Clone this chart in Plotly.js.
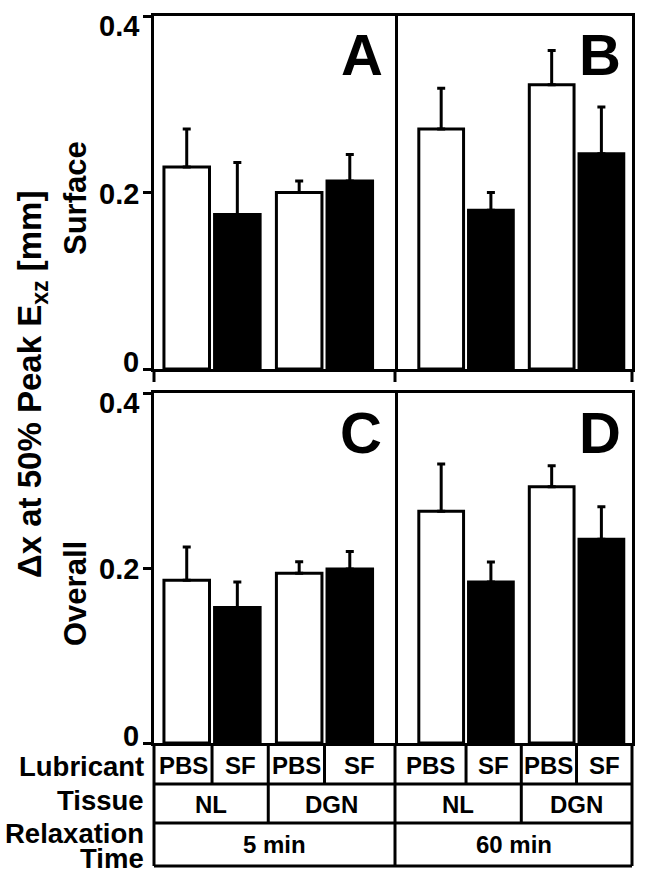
<!DOCTYPE html>
<html><head><meta charset="utf-8">
<script src="https://cdn.plot.ly/plotly-3.0.1.min.js"></script>
<style>html,body{margin:0;padding:0;background:#fff}#chart{width:645px;height:879px}</style>
</head><body><div id="chart"></div>
<script>
// ---------- data ----------
const tissues = ['NL', 'DGN'];
const lubricants = ['PBS', 'SF'];
const relaxTimes = ['5 min', '60 min'];
const regionLabels = ['Surface', 'Overall'];
const panelLetters = ['A', 'B', 'C', 'D'];
const yTickVals = [0, 0.2, 0.4];
const yTickText = ['0', '0.2', '0.4'];

// Surface (top row): values by tissue [NL, DGN]
const surface5minPBS = [0.229, 0.200];
const surface5minPBSErr = [0.043, 0.013];
const surface5minSF = [0.175, 0.213];
const surface5minSFErr = [0.059, 0.030];
const surface60minPBS = [0.272, 0.322];
const surface60minPBSErr = [0.046, 0.039];
const surface60minSF = [0.180, 0.244];
const surface60minSFErr = [0.020, 0.053];

// Overall (bottom row)
const overall5minPBS = [0.186, 0.194];
const overall5minPBSErr = [0.038, 0.013];
const overall5minSF = [0.155, 0.199];
const overall5minSFErr = [0.029, 0.020];
const overall60minPBS = [0.265, 0.293];
const overall60minPBSErr = [0.054, 0.024];
const overall60minSF = [0.184, 0.233];
const overall60minSFErr = [0.023, 0.037];

// ---------- layout geometry ----------
const W = 645, H = 879;
const M = {l: 154, r: 13, t: 16, b: 136};
const PW = W - M.l - M.r, PH = H - M.t - M.b;
const px2x = p => (p - M.l) / PW;
const px2y = p => (H - M.b - p) / PH;

const xDomL = [0, px2x(395)], xDomR = [px2x(395), 1];
const yDomTop = [px2y(369), 1], yDomBot = [0, px2y(393)];
const xRangeL = [-0.516, 1.627], xRangeR = [-0.643, 1.502];

const FONT = 'Liberation Sans, Arial, Helvetica, sans-serif';
const BLACK = '#000';

const panels = [
  {x: 'x',  y: 'y',  pbs: surface5minPBS,  pbsE: surface5minPBSErr,  sf: surface5minSF,  sfE: surface5minSFErr},
  {x: 'x2', y: 'y2', pbs: surface60minPBS, pbsE: surface60minPBSErr, sf: surface60minSF, sfE: surface60minSFErr},
  {x: 'x3', y: 'y3', pbs: overall5minPBS,  pbsE: overall5minPBSErr,  sf: overall5minSF,  sfE: overall5minSFErr},
  {x: 'x4', y: 'y4', pbs: overall60minPBS, pbsE: overall60minPBSErr, sf: overall60minSF, sfE: overall60minSFErr}
];

const zeros = () => tissues.map(() => 0);
const traces = [];
panels.forEach(p => {
  traces.push({
    type: 'bar', x: tissues, y: p.pbs, name: lubricants[0], xaxis: p.x, yaxis: p.y,
    marker: {color: '#fff', line: {color: BLACK, width: 3}},
    error_y: {type: 'data', symmetric: false, array: p.pbsE, arrayminus: zeros(), color: BLACK, thickness: 3, width: 4},
    showlegend: false, hoverinfo: 'skip'
  });
  traces.push({
    type: 'bar', x: tissues, y: p.sf, name: lubricants[1], xaxis: p.x, yaxis: p.y,
    marker: {color: BLACK, line: {color: BLACK, width: 3}},
    error_y: {type: 'data', symmetric: false, array: p.sfE, arrayminus: zeros(), color: BLACK, thickness: 3, width: 4},
    showlegend: false, hoverinfo: 'skip'
  });
});

function xAx(dom, rng, anchor) {
  return {domain: dom, range: rng, type: 'category', categoryorder: 'array', categoryarray: tissues,
    anchor: anchor, showline: true, linewidth: 3, linecolor: BLACK, mirror: true,
    ticks: '', showticklabels: false, showgrid: false, zeroline: false, fixedrange: true};
}
function yAxLeft(dom, anchor) {
  return {domain: dom, range: [0, 0.4], anchor: anchor, tickvals: yTickVals, ticktext: yTickText,
    ticks: 'outside', ticklen: 8, tickwidth: 3, tickcolor: BLACK, showticklabels: false,
    showline: true, linewidth: 3, linecolor: BLACK, mirror: true,
    showgrid: false, zeroline: false, fixedrange: true};
}
function yAxRight(dom, anchor) {
  return {domain: dom, range: [0, 0.4], anchor: anchor, side: 'right',
    ticks: '', showticklabels: false,
    showline: true, linewidth: 3, linecolor: BLACK, mirror: false,
    showgrid: false, zeroline: false, fixedrange: true};
}

const shapes = [];
const line = (x0, y0, x1, y1, xref, yref) => shapes.push({type: 'line', x0, y0, x1, y1, xref: xref || 'paper', yref: yref || 'paper', line: {color: BLACK, width: 3}});

// small tick extensions below the top row
[0, px2x(395), 1].forEach(x => line(x, yDomTop[0], x, px2y(382)));

// table grid
[784, 823, 866].forEach(py => line(0, px2y(py), 1, px2y(py)));
[0, px2x(395), 1].forEach(x => line(x, px2y(743), x, px2y(866)));
// lubricant row inner dividers (between bars, at category edges)
[0, 0.5, 1].forEach(v => { line(v, px2y(743), v, px2y(784), 'x3'); line(v, px2y(743), v, px2y(784), 'x4'); });
// tissue row inner dividers
line(0.5, px2y(784), 0.5, px2y(823), 'x3');
line(0.5, px2y(784), 0.5, px2y(823), 'x4');

const annotations = [];
const ann = o => annotations.push(Object.assign({showarrow: false, xanchor: 'center', yanchor: 'middle',
  font: {family: FONT, size: 24, color: BLACK, weight: 700}}, o));

// y tick labels (end labels nudged inward as in the original)
const tickFont = {family: FONT, size: 29, color: BLACK, weight: 700};
const tickShift = [7, -1, -10];
['y', 'y3'].forEach(yr => {
  yTickVals.forEach((v, i) => ann({x: px2x(141), xref: 'paper', xanchor: 'right', y: v, yref: yr,
    yshift: tickShift[i], text: yTickText[i], font: tickFont}));
});

// table cell labels
[[xRangeL, 'x3'], [xRangeR, 'x4']].forEach(([rng, xr]) => {
  const b = [rng[0], 0, 0.5, 1, rng[1]];
  for (let i = 0; i < 4; i++) {
    ann({x: (b[i] + b[i + 1]) / 2, xref: xr, y: px2y(765), yref: 'paper', text: lubricants[i % 2]});
  }
  const bt = [rng[0], 0.5, rng[1]];
  for (let i = 0; i < 2; i++) {
    ann({x: (bt[i] + bt[i + 1]) / 2, xref: xr, y: px2y(804), yref: 'paper', text: tissues[i]});
  }
});
ann({x: 0.5, xref: 'x3 domain', y: px2y(845), yref: 'paper', text: relaxTimes[0]});
ann({x: 0.5, xref: 'x4 domain', y: px2y(845), yref: 'paper', text: relaxTimes[1]});

// row headers
const hdrFont = {family: FONT, size: 27.5, color: BLACK, weight: 700};
ann({x: px2x(146), xref: 'paper', xanchor: 'right', y: px2y(766), yref: 'paper', text: 'Lubricant', font: hdrFont});
ann({x: px2x(146), xref: 'paper', xanchor: 'right', y: px2y(801), yref: 'paper', text: 'Tissue', font: hdrFont});
ann({x: px2x(146), xref: 'paper', xanchor: 'right', y: px2y(834), yref: 'paper', text: 'Relaxation', font: hdrFont});
ann({x: px2x(146), xref: 'paper', xanchor: 'right', y: px2y(858), yref: 'paper', text: 'Time', font: hdrFont});

// panel letters
const letterFont = {family: FONT, size: 58, color: BLACK, weight: 700};
ann({x: 0.863, xref: 'x domain', y: 0.892, yref: 'y domain', text: panelLetters[0], font: letterFont});
ann({x: 0.867, xref: 'x2 domain', y: 0.892, yref: 'y2 domain', text: panelLetters[1], font: letterFont});
ann({x: 0.857, xref: 'x3 domain', y: 0.887, yref: 'y3 domain', text: panelLetters[2], font: letterFont});
ann({x: 0.863, xref: 'x4 domain', y: 0.887, yref: 'y4 domain', text: panelLetters[3], font: letterFont});

// row titles and main y title
const rowFont = {family: FONT, size: 31, color: BLACK, weight: 700};
ann({x: px2x(75), xref: 'paper', y: px2y(198), yref: 'paper', text: regionLabels[0], textangle: -90, font: rowFont});
ann({x: px2x(75), xref: 'paper', y: px2y(594), yref: 'paper', text: regionLabels[1], textangle: -90, font: rowFont});
ann({x: px2x(32), xref: 'paper', y: px2y(385), yref: 'paper', text: 'Δx at 50% Peak E<sub>xz</sub> [mm]', textangle: -90,
  font: {family: FONT, size: 33, color: BLACK, weight: 700}});

const layout = {
  width: W, height: H, margin: M,
  paper_bgcolor: '#fff', plot_bgcolor: '#fff',
  font: {family: FONT, color: BLACK},
  barmode: 'group', bargap: 0.1, bargroupgap: 0.1,
  showlegend: false,
  xaxis: xAx(xDomL, xRangeL, 'y'),
  yaxis: yAxLeft(yDomTop, 'x'),
  xaxis2: xAx(xDomR, xRangeR, 'y2'),
  yaxis2: yAxRight(yDomTop, 'x2'),
  xaxis3: xAx(xDomL, xRangeL, 'y3'),
  yaxis3: yAxLeft(yDomBot, 'x3'),
  xaxis4: xAx(xDomR, xRangeR, 'y4'),
  yaxis4: yAxRight(yDomBot, 'x4'),
  shapes: shapes,
  annotations: annotations
};

Plotly.newPlot('chart', traces, layout, {displayModeBar: false, staticPlot: true});
</script>
</body></html>
